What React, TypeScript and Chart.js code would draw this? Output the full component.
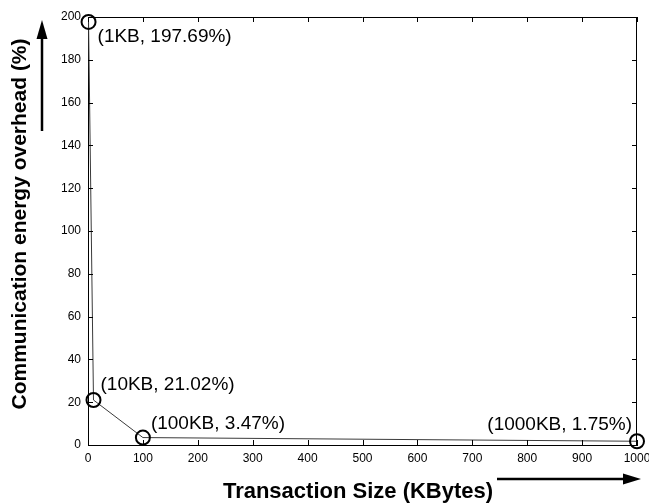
import React, { useEffect, useRef } from "react";
import { Chart, registerables } from "chart.js";

Chart.register(...registerables);

// ---- data ----
const transactionSizes = [1, 10, 100, 1000];
const energyOverhead = [197.69, 21.02, 3.47, 1.75];
const pointLabels = ["(1KB, 197.69%)", "(10KB, 21.02%)", "(100KB, 3.47%)", "(1000KB, 1.75%)"];
const xTitle = "Transaction Size (KBytes)";
const yTitle = "Communication energy overhead (%)";
const xRange = [0, 1000];
const yRange = [0, 200];
const xStep = 100;
const yStep = 20;

// ---- styling / placement (not data) ----
const labelPlacement = [
  { dx: 9, dy: 15, align: "left" },
  { dx: 7, dy: -15, align: "left" },
  { dx: 8, dy: -14, align: "left" },
  { dx: -5, dy: -16, align: "right" },
];
const FONT = '"Liberation Sans", Arial, Helvetica, sans-serif';

const decorPlugin = {
  id: "decor",
  afterDraw(chart: any) {
    const { ctx, chartArea } = chart;
    const xs = chart.scales.x;
    const ys = chart.scales.y;
    const { left, right, top, bottom } = chartArea;
    ctx.save();
    // box top & right
    ctx.strokeStyle = "#000";
    ctx.lineWidth = 1;
    ctx.beginPath();
    ctx.moveTo(left, top + 0.5);
    ctx.lineTo(right, top + 0.5);
    ctx.moveTo(right - 0.5, top);
    ctx.lineTo(right - 0.5, bottom);
    ctx.stroke();
    // inward ticks
    const tl = 5;
    ctx.beginPath();
    xs.ticks.forEach((t: any) => {
      const px = Math.round(xs.getPixelForValue(t.value)) + 0.5;
      ctx.moveTo(px, bottom);
      ctx.lineTo(px, bottom - tl);
      ctx.moveTo(px, top);
      ctx.lineTo(px, top + tl);
    });
    ys.ticks.forEach((t: any) => {
      const py = Math.round(ys.getPixelForValue(t.value)) + 0.5;
      ctx.moveTo(left, py);
      ctx.lineTo(left + tl, py);
      ctx.moveTo(right, py);
      ctx.lineTo(right - tl, py);
    });
    ctx.stroke();

    // point annotations
    ctx.fillStyle = "#000";
    ctx.font = `19px ${FONT}`;
    ctx.textBaseline = "middle";
    transactionSizes.forEach((x, i) => {
      const px = xs.getPixelForValue(x);
      const py = ys.getPixelForValue(energyOverhead[i]);
      const p = labelPlacement[i];
      ctx.textAlign = p.align as CanvasTextAlign;
      ctx.fillText(pointLabels[i], px + p.dx, py + p.dy);
    });

    // arrows
    ctx.strokeStyle = "#000";
    ctx.fillStyle = "#000";
    ctx.lineWidth = 2.5;
    // vertical arrow (y)
    const ax = 42;
    ctx.beginPath();
    ctx.moveTo(ax, 131);
    ctx.lineTo(ax, 36);
    ctx.stroke();
    ctx.beginPath();
    ctx.moveTo(ax, 20);
    ctx.lineTo(ax - 5.5, 39);
    ctx.lineTo(ax + 5.5, 39);
    ctx.closePath();
    ctx.fill();
    // horizontal arrow (x)
    const ay = 479;
    ctx.beginPath();
    ctx.moveTo(497, ay);
    ctx.lineTo(626, ay);
    ctx.stroke();
    ctx.beginPath();
    ctx.moveTo(641, ay);
    ctx.lineTo(623, ay - 5.5);
    ctx.lineTo(623, ay + 5.5);
    ctx.closePath();
    ctx.fill();

    // axis titles
    ctx.font = `bold 22px ${FONT}`;
    ctx.textAlign = "center";
    ctx.textBaseline = "middle";
    ctx.fillText(xTitle, 358, 492);
    ctx.save();
    ctx.translate(20, 224);
    ctx.rotate(-Math.PI / 2);
    ctx.font = `bold 21px ${FONT}`;
    ctx.fillText(yTitle, 0, 0);
    ctx.restore();

    ctx.restore();
  },
};

export default function App() {
  const canvasRef = useRef<HTMLCanvasElement | null>(null);

  useEffect(() => {
    const canvas = canvasRef.current;
    if (!canvas) return;
    const chart = new Chart(canvas, {
      type: "line",
      data: {
        datasets: [
          {
            data: transactionSizes.map((x, i) => ({ x, y: energyOverhead[i] })),
            borderColor: "#3a3a3a",
            borderWidth: 1,
            pointStyle: "circle",
            pointRadius: 7,
            pointBorderWidth: 2,
            pointBorderColor: "#000",
            pointBackgroundColor: "rgba(0,0,0,0)",
            clip: false as any,
            tension: 0,
          },
        ],
      },
      options: {
        responsive: false,
        animation: false,
        layout: { padding: { top: 17, right: 12, left: 0, bottom: 0 } },
        plugins: {
          legend: { display: false },
          tooltip: { enabled: false },
        },
        scales: {
          x: {
            type: "linear",
            min: xRange[0],
            max: xRange[1],
            grid: { display: false, drawTicks: false },
            border: { display: true, color: "#000", width: 1 },
            ticks: {
              stepSize: xStep,
              color: "#000",
              padding: 6,
              maxRotation: 0,
              autoSkip: false,
              font: { family: FONT, size: 12 },
              callback: (v: any) => String(v),
            },
            afterFit(scale: any) {
              scale.height = 59;
              scale.paddingLeft = 0;
              scale.paddingRight = 0;
            },
          },
          y: {
            type: "linear",
            min: yRange[0],
            max: yRange[1],
            grid: { display: false, drawTicks: false },
            border: { display: true, color: "#000", width: 1 },
            ticks: {
              stepSize: yStep,
              color: "#000",
              padding: 7,
              autoSkip: false,
              font: { family: FONT, size: 12 },
              callback: (v: any) => String(v),
            },
            afterFit(scale: any) {
              scale.width = 88;
              scale.paddingTop = 0;
              scale.paddingBottom = 0;
            },
          },
        },
      },
      plugins: [decorPlugin],
    });
    return () => chart.destroy();
  }, []);

  return (
    <div style={{ position: "absolute", left: 0, top: 0, width: 649, height: 504, background: "#fff" }}>
      <canvas ref={canvasRef} width={649} height={504} style={{ display: "block" }} />
    </div>
  );
}
